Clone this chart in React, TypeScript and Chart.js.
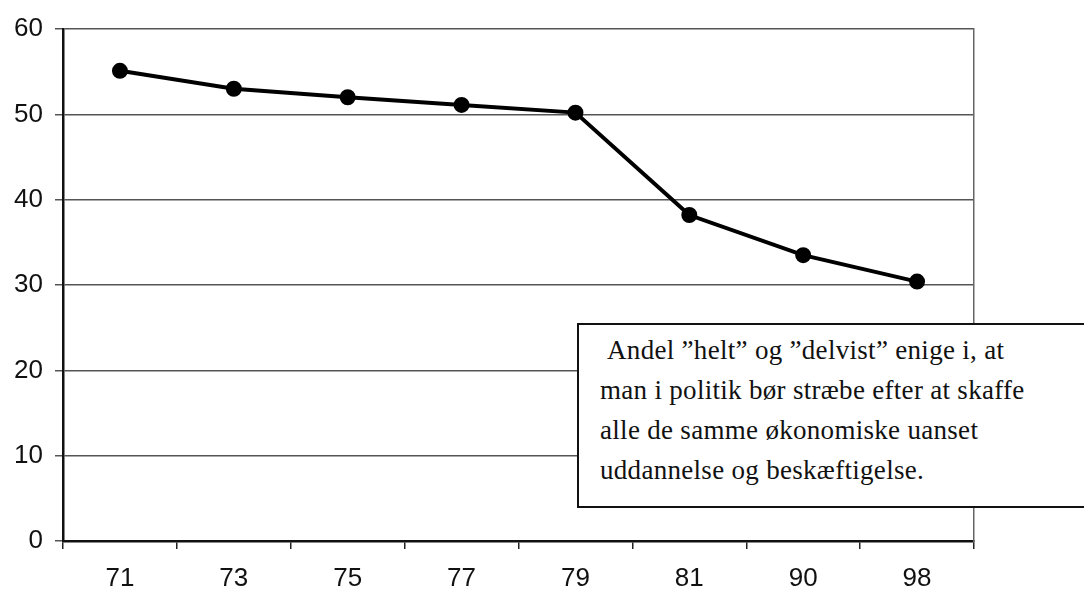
import React, { useEffect, useRef } from "react";
import { Chart, registerables } from "chart.js";

Chart.register(...registerables);

const categories = ["71", "73", "75", "77", "79", "81", "90", "98"];
const values = [55.1, 53.0, 52.0, 51.1, 50.2, 38.2, 33.5, 30.4];
const yTicks = { min: 0, max: 60, step: 10 };
const noteLines = [
  "\u00A0Andel \u201Dhelt\u201D og \u201Ddelvist\u201D enige i, at",
  "man i politik bør stræbe efter at skaffe",
  "alle de samme økonomiske uanset",
  "uddannelse og beskæftigelse.",
];

export default function App() {
  const ref = useRef<HTMLCanvasElement | null>(null);

  useEffect(() => {
    if (!ref.current) return;
    const tickFont = { family: "'Liberation Sans', Arial, sans-serif", size: 26 };
    const chart = new Chart(ref.current, {
      type: "line",
      data: {
        labels: categories,
        datasets: [
          {
            data: values,
            borderColor: "#000",
            backgroundColor: "#000",
            borderWidth: 4,
            pointRadius: 6,
            pointBackgroundColor: "#000",
            pointBorderColor: "#000",
            tension: 0,
          },
        ],
      },
      options: {
        animation: false,
        responsive: false,
        layout: { padding: { top: 29, right: 110, left: 0, bottom: 0 } },
        plugins: { legend: { display: false }, tooltip: { enabled: false } },
        scales: {
          x: {
            offset: true,
            grid: {
              offset: true,
              drawOnChartArea: false,
              drawTicks: true,
              tickLength: 8,
              color: "#222",
              lineWidth: 1.5,
            },
            border: { color: "#111", width: 2.5 },
            ticks: { color: "#111", font: tickFont, padding: 14 },
            afterFit: (s: any) => {
              s.height = 48;
            },
          },
          y: {
            min: yTicks.min,
            max: yTicks.max,
            ticks: { stepSize: yTicks.step, color: "#111", font: tickFont, padding: 12 },
            grid: { color: "#555", lineWidth: 1.5, tickLength: 8 },
            border: { color: "#111", width: 2.5 },
            afterFit: (s: any) => {
              s.width = 63;
            },
          },
          y2: {
            position: "right",
            min: yTicks.min,
            max: yTicks.max,
            ticks: { display: false },
            grid: { drawOnChartArea: false, drawTicks: false },
            border: { color: "#666", width: 1.5 },
            afterFit: (s: any) => {
              s.width = 0;
            },
          },
        },
      },
    });
    return () => chart.destroy();
  }, []);

  return (
    <div style={{ position: "fixed", left: 0, top: 0, width: 1084, height: 589, background: "#fff", overflow: "hidden" }}>
      <canvas ref={ref} width={1084} height={589} style={{ display: "block" }} />
      <div
        style={{
          position: "absolute",
          left: 577,
          top: 323,
          width: 540,
          height: 176,
          border: "2.5px solid #111",
          background: "#fff",
          boxSizing: "content-box",
          fontFamily: "'Liberation Serif', 'Times New Roman', serif",
          fontSize: 27,
          letterSpacing: "0.3px",
          lineHeight: "40px",
          color: "#111",
          paddingTop: 5,
          paddingLeft: 21,
          whiteSpace: "nowrap",
        }}
      >
        {noteLines.map((l, i) => (
          <div key={i}>{l}</div>
        ))}
      </div>
    </div>
  );
}
